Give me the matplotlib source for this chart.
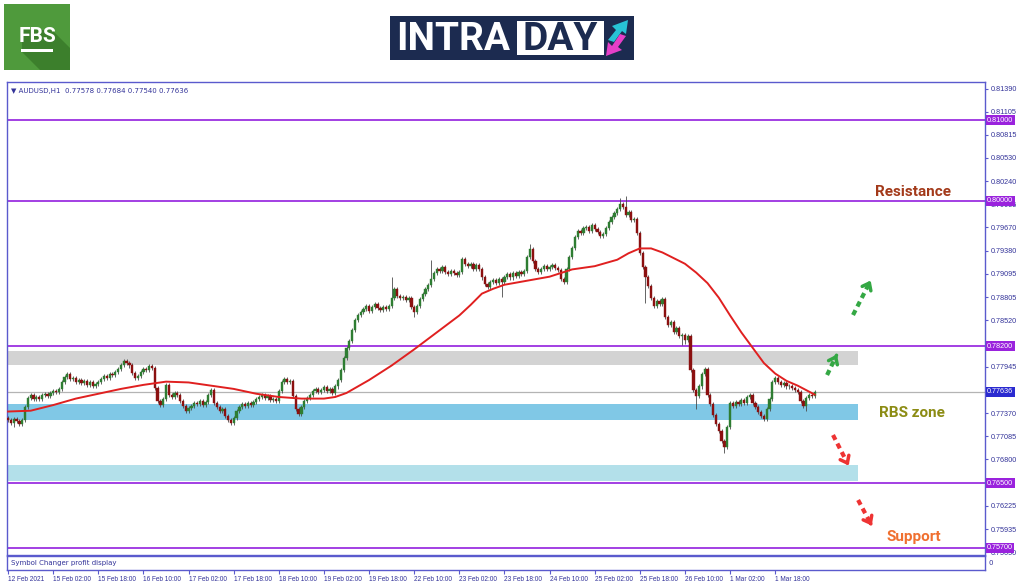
import matplotlib
matplotlib.use("Agg")
import matplotlib.pyplot as plt
from matplotlib.patches import Rectangle, Polygon

# ---- data (AUDUSD H1) ----
closes = [
    0.7728, 0.7725, 0.7730, 0.7727, 0.7724, 0.7729,
    0.7745, 0.7756, 0.7759,
    0.7754, 0.7757, 0.7755, 0.7759, 0.7761, 0.7758, 0.7762, 0.7765, 0.7763, 0.7767,
    0.7776, 0.7782, 0.7785, 0.7779, 0.7781, 0.7776, 0.7778,
    0.7774, 0.7777, 0.7772, 0.7775, 0.7771, 0.7773, 0.7776,
    0.7779, 0.7783, 0.7781, 0.7786, 0.7784, 0.7788, 0.7792,
    0.7797, 0.7801, 0.7799, 0.7796,
    0.7787, 0.7780, 0.7783,
    0.7788, 0.7792, 0.7790, 0.7795, 0.7793,
    0.7768, 0.7752, 0.7747, 0.7755,
    0.7772,
    0.7760, 0.7757, 0.7762, 0.7759,
    0.7752, 0.7746, 0.7740, 0.7743,
    0.7746, 0.7750, 0.7748, 0.7752, 0.7747, 0.7751,
    0.7760, 0.7766,
    0.7750, 0.7744, 0.7740, 0.7742,
    0.7734, 0.7728, 0.7725, 0.7731,
    0.7740, 0.7745, 0.7748, 0.7746, 0.7750, 0.7747, 0.7751,
    0.7754, 0.7757, 0.7760, 0.7756,
    0.7758, 0.7753, 0.7755, 0.7752,
    0.7765, 0.7776, 0.7779, 0.7775, 0.7777,
    0.7758, 0.7742, 0.7736,
    0.7745, 0.7752, 0.7756, 0.7760,
    0.7764, 0.7767, 0.7763, 0.7766, 0.7769, 0.7765, 0.7767,
    0.7762, 0.7770, 0.7778, 0.7790, 0.7805, 0.7818, 0.7826, 0.7840,
    0.7852, 0.7858, 0.7862,
    0.7866, 0.7870, 0.7864, 0.7868, 0.7872, 0.7867,
    0.7865, 0.7868, 0.7866, 0.7870,
    0.7880, 0.7891,
    0.7882, 0.7879, 0.7881, 0.7877, 0.7880,
    0.7868, 0.7862,
    0.7870, 0.7878, 0.7885, 0.7891, 0.7896,
    0.7903, 0.7910, 0.7916, 0.7913, 0.7918,
    0.7912, 0.7909, 0.7913, 0.7910, 0.7908, 0.7912,
    0.7928, 0.7922,
    0.7919, 0.7922, 0.7916, 0.7920, 0.7915,
    0.7905, 0.7897, 0.7893,
    0.7899, 0.7902, 0.7898, 0.7903,
    0.7900, 0.7906, 0.7909, 0.7905, 0.7911, 0.7907, 0.7912, 0.7909, 0.7913,
    0.7930, 0.7940,
    0.7925, 0.7915, 0.7912,
    0.7916, 0.7919, 0.7915, 0.7918, 0.7920, 0.7917, 0.7914,
    0.7903, 0.7899,
    0.7915, 0.7930, 0.7941,
    0.7955, 0.7963, 0.7960, 0.7966,
    0.7968, 0.7962, 0.7970, 0.7965, 0.7961,
    0.7956, 0.7959,
    0.7966, 0.7974, 0.7980, 0.7985, 0.7990,
    0.7996, 0.7992,
    0.7982, 0.7986, 0.7976, 0.7978,
    0.7960,
    0.7935, 0.7918,
    0.7905, 0.7895,
    0.7880, 0.7870, 0.7876, 0.7872,
    0.7878,
    0.7856, 0.7846,
    0.7850, 0.7838, 0.7842, 0.7832,
    0.7834, 0.7828, 0.7832,
    0.7790, 0.7766,
    0.7758, 0.7770,
    0.7785, 0.7792,
    0.7760, 0.7748,
    0.7735, 0.7724, 0.7715,
    0.7702, 0.7695,
    0.7720,
    0.7750,
    0.7746, 0.7751, 0.7748, 0.7753, 0.7749,
    0.7757, 0.7760,
    0.7750, 0.7744, 0.7738, 0.7733, 0.7730,
    0.7742, 0.7755,
    0.7775, 0.7781,
    0.7776, 0.7772, 0.7774, 0.7770, 0.7771, 0.7768,
    0.7766, 0.7763,
    0.7752, 0.7746,
    0.7756, 0.7760, 0.7758, 0.77636,
]
first_open = 0.7731
spike_hi = {136: 0.7906, 150: 0.7927, 185: 0.7946, 217: 0.8004, 219: 0.8006}
spike_lo = {2: 0.7720, 80: 0.7722, 144: 0.7856, 175: 0.7881, 226: 0.7873,
            239: 0.7821, 240: 0.7822, 244: 0.7742, 254: 0.7688, 283: 0.7740}

ma_bars = [0, 8, 16, 24, 32, 40, 48, 56, 64, 72, 80, 88, 96, 104,
           112, 116, 120, 124, 128, 136, 144, 152, 160, 164, 168, 172, 176,
           184, 192, 200, 208, 216, 220, 224, 228, 232, 236, 240, 244, 248,
           252, 256, 260, 264, 268, 272, 276, 280, 286]
ma_vals = [0.7739, 0.7740, 0.7747, 0.7755, 0.7761, 0.7767, 0.7772, 0.7776, 0.7775,
           0.7771, 0.7767, 0.7761, 0.7757, 0.7755,
           0.7755, 0.7757, 0.7762, 0.7770, 0.7778, 0.7796, 0.7816, 0.7837, 0.7858,
           0.7871, 0.7885, 0.7891, 0.7896,
           0.7901, 0.7906, 0.7915, 0.7919, 0.7927, 0.7935, 0.7941, 0.7941, 0.7936,
           0.7929, 0.7922, 0.7911, 0.7898, 0.7880, 0.7858, 0.7837, 0.7818, 0.7799,
           0.7786, 0.7777, 0.7771, 0.7760]

levels = [0.81000, 0.80000, 0.78200, 0.76500, 0.75700]
last_price = 0.77636
gray_zone = (0.77966, 0.78143)
rbs_zone = (0.77285, 0.77483)
low_zone = (0.76530, 0.76727)

ytick_vals = [0.81390, 0.81105, 0.80815, 0.80530, 0.80240, 0.79955, 0.79670, 0.79380,
              0.79095, 0.78805, 0.78520, 0.77945, 0.77370, 0.77085,
              0.76800, 0.76225, 0.75935, 0.75650]
xtick_labels = ["12 Feb 2021", "15 Feb 02:00", "15 Feb 18:00", "16 Feb 10:00",
                "17 Feb 02:00", "17 Feb 18:00", "18 Feb 10:00", "19 Feb 02:00",
                "19 Feb 18:00", "22 Feb 10:00", "23 Feb 02:00", "23 Feb 18:00",
                "24 Feb 10:00", "25 Feb 02:00", "25 Feb 18:00", "26 Feb 10:00",
                "1 Mar 02:00", "1 Mar 18:00"]

NAVY = "#333399"
FRAME = "#5a5acd"
PURPLE = "#9b30e0"
SMALL = "Liberation Sans"

fig = plt.figure(figsize=(10.24, 5.87), dpi=100)

# header logos, drawn in pixel coordinates
hdr = fig.add_axes([0, 0, 1, 1])
hdr.set_xlim(0, 1024)
hdr.set_ylim(587, 0)
hdr.axis("off")
hdr.add_patch(Rectangle((4, 4), 66, 66, fc="#4f9a3c", ec="none"))
hdr.add_patch(Polygon([(22, 30), (52, 30), (70, 48), (70, 70), (40, 70), (22, 52)],
                      fc="#3c7f2c", ec="none"))
hdr.text(37, 36, "FBS", color="white", fontsize=15, fontweight="bold",
         family="Roboto", ha="center", va="center")
hdr.add_patch(Rectangle((21, 49), 32, 3, fc="white", ec="none"))

hdr.add_patch(Rectangle((390, 16), 244, 44, fc="#1c2b50", ec="none"))
hdr.text(396, 39, "INTRA", color="white", fontsize=28, fontweight="bold",
         family="Roboto", ha="left", va="center")
hdr.add_patch(Rectangle((517, 21), 87, 34, fc="white", ec="none"))
hdr.text(560, 39, "DAY", color="#1c2b50", fontsize=28, fontweight="bold",
         family="Roboto", ha="center", va="center")
hdr.add_patch(Polygon([(608, 40), (616, 30), (612, 26), (628, 20), (626, 34), (622, 31), (614, 42)],
                      fc="#27c3d6", ec="none"))
hdr.add_patch(Polygon([(606, 56), (622, 50), (618, 47), (626, 36), (620, 34), (612, 46), (608, 42)],
                      fc="#e63fc8", ec="none"))

# main price panel
ax = fig.add_axes([7 / 1024, 32 / 587, 978 / 1024, 473 / 587])
ax.set_xlim(-0.4, 346.4)
ax.set_ylim(0.75613, 0.81471)

zone_end = 301.4
for (lo, hi), col in [(gray_zone, "#d3d3d3"), (rbs_zone, "#80c8e6"), (low_zone, "#b3e0ea")]:
    ax.add_patch(Rectangle((-0.4, lo), zone_end + 0.4, hi - lo, fc=col, ec="none", zorder=1))

ax.axhline(last_price, color="#b4b4b4", lw=0.9, zorder=2)
for lv in levels:
    ax.axhline(lv, color=PURPLE, lw=1.3, zorder=2)

opens = [first_open] + closes[:-1]
for i, (o, c) in enumerate(zip(opens, closes)):
    hi = spike_hi.get(i, max(o, c) + 0.00025)
    lo = spike_lo.get(i, min(o, c) - 0.00025)
    col = "#2e7d32" if c >= o else "#8b1010"
    ax.vlines(i, lo, hi, color="#4a4a4a", lw=0.6, zorder=3)
    h = c - o if abs(c - o) > 0.00004 else 0.00004
    ax.bar(i, h, bottom=o, width=0.8, color=col, edgecolor=col, lw=0.3, zorder=4)

ax.plot(ma_bars, ma_vals, color="#e02020", lw=1.4, zorder=5, solid_joinstyle="round")

for sp in ax.spines.values():
    sp.set_color(FRAME)
    sp.set_linewidth(1.0)
ax.set_xticks([])
ax.yaxis.tick_right()
ax.set_yticks(ytick_vals)
ax.set_yticklabels([f"{v:.5f}" for v in ytick_vals], family=SMALL)
ax.tick_params(axis="y", labelsize=5.2, labelcolor=NAVY, color=FRAME, length=2, pad=2)

ytr = ax.get_yaxis_transform()
for lv in levels:
    ax.text(1.002, lv, f"{lv:.5f}", transform=ytr, fontsize=5.2, color="white",
            family=SMALL, va="center", ha="left", clip_on=False, zorder=10,
            bbox=dict(boxstyle="square,pad=0.2", fc="#9a22dd", ec="none"))
ax.text(1.002, last_price, f"{last_price:.5f}", transform=ytr, fontsize=5.2, color="white",
        family=SMALL, va="center", ha="left", clip_on=False, zorder=10,
        bbox=dict(boxstyle="square,pad=0.2", fc="#2a2ad0", ec="none"))

ax.text(0.004, 0.988, "\u25bc AUDUSD,H1  0.77578 0.77684 0.77540 0.77636",
        transform=ax.transAxes, fontsize=5, color=NAVY, va="top", ha="left")

# annotations
ax.text(321, 0.80108, "Resistance", color="#a33a1a", fontsize=11, fontweight="bold",
        family="Roboto", ha="center", va="center")
ax.text(320.5, 0.77372, "RBS zone", color="#8c8c14", fontsize=11, fontweight="bold",
        family="Roboto", ha="center", va="center")
ax.text(321.2, 0.75836, "Support", color="#f07030", fontsize=11, fontweight="bold",
        family="Roboto", ha="center", va="center")


def dashed_arrow(x0, y0, x1, y1, color):
    ax.plot([x0, x0 + 0.8 * (x1 - x0)], [y0, y0 + 0.8 * (y1 - y0)], color=color, lw=3,
            ls=(0, (1.3, 1.0)), solid_capstyle="butt", zorder=6)
    ax.annotate("", xy=(x1, y1), xytext=(x0 + 0.75 * (x1 - x0), y0 + 0.75 * (y1 - y0)),
                arrowprops=dict(arrowstyle="->,head_length=0.45,head_width=0.35",
                                color=color, lw=2.5), zorder=6)


dashed_arrow(290.4, 0.77842, 294.3, 0.78127, "#34a844")
dashed_arrow(299.6, 0.78585, 306.3, 0.79043, "#34a844")
dashed_arrow(292.5, 0.77099, 298.5, 0.76690, "#ee3333")
dashed_arrow(301.4, 0.76294, 306.7, 0.75947, "#ee3333")

# indicator sub panel with the time axis
sub = fig.add_axes([7 / 1024, 17 / 587, 978 / 1024, 14 / 587])
sub.set_xlim(-0.4, 346.4)
sub.set_yticks([])
for sp in sub.spines.values():
    sp.set_color(FRAME)
    sp.set_linewidth(1.0)
sub.text(0.004, 0.5, "Symbol Changer profit display", transform=sub.transAxes,
         fontsize=5, color=NAVY, va="center", ha="left")
sub.text(1.004, 0.5, "0", transform=sub.transAxes, fontsize=5, color=NAVY,
         va="center", ha="left")
sub.set_xticks(range(0, 16 * len(xtick_labels), 16))
sub.set_xticklabels(xtick_labels, ha="left", family=SMALL)
sub.tick_params(axis="x", labelsize=4.7, labelcolor=NAVY, color=FRAME, length=3, pad=1)

fig.savefig("out.png", dpi=100)
